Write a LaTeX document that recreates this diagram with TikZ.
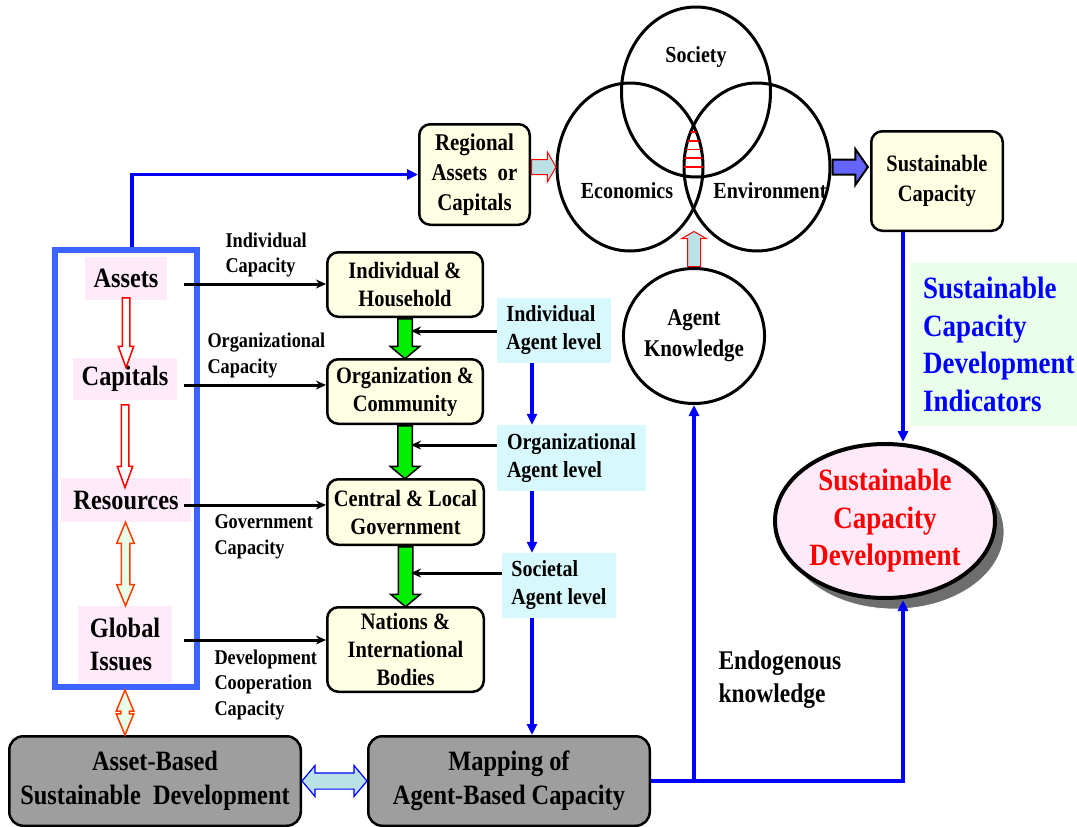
\documentclass[tikz,border=0pt]{standalone}
\usepackage{fontspec}
\setmainfont[FakeStretch=0.87]{Liberation Serif}
\usetikzlibrary{arrows.meta,calc,shapes.geometric,shapes.arrows,shadows}

\definecolor{frameblue}{RGB}{60,100,255}
\definecolor{boxyellow}{RGB}{255,255,228}
\definecolor{assetpink}{RGB}{255,234,250}
\definecolor{agentcyan}{RGB}{215,248,252}
\definecolor{indgreen}{RGB}{234,255,234}
\definecolor{boxgrey}{RGB}{158,158,158}
\definecolor{shadowgrey}{RGB}{110,110,110}
\definecolor{arrowteal}{RGB}{185,225,230}
\definecolor{arrowgreen}{RGB}{0,240,0}
\definecolor{arrowviolet}{RGB}{100,100,255}
\definecolor{redorange}{RGB}{255,60,0}
\definecolor{palegreen}{RGB}{232,255,232}

\newcommand{\sz}[2]{\fontsize{#1}{#2}\selectfont\bfseries}
% block arrow from #3 to #4, turned by #2
\newcommand{\blockarrow}[4]{%
  \path let \p1=#3, \p2=#4, \n1={veclen(\x2-\x1,\y2-\y1)} in
    node[#1, rotate=#2, anchor=tail, minimum height=\n1] at (\p1) {};}
\newcommand{\dblarrow}[4]{%
  \path let \p1=#3, \p2=#4, \n1={veclen(\x2-\x1,\y2-\y1)} in
    node[#1, rotate=#2, minimum height=\n1] at ($(\p1)!.5!(\p2)$) {};}

\begin{document}
\begin{tikzpicture}[x=1pt,y=-1pt]
  \tikzset{
    assetframe/.style={draw=frameblue, line width=6pt, minimum width=142pt, minimum height=437pt},
    asset/.style={fill=assetpink, inner sep=0pt, font={\sz{28}{33}}},
    box/.style={draw, line width=2.5pt, rounded corners=11pt, fill=boxyellow, inner sep=0pt, align=center, font={\sz{23.5}{28}}},
    greybox/.style={box, fill=boxgrey, rounded corners=14pt, font={\sz{28}{34}}},
    agent/.style={fill=agentcyan, inner sep=0pt, align=left, font={\sz{23}{28}}},
    caplabel/.style={anchor=west, align=left, font={\sz{21}{25.5}}},
    venn/.style={draw, line width=3pt, ellipse, inner sep=0pt, minimum width=146pt, minimum height=168pt},
    vennlabel/.style={font={\sz{23}{28}}},
    capline/.style={line width=3pt, -{Stealth[length=10pt,width=9pt]}},
    blueline/.style={blue, line width=3.5pt},
    bluearrow/.style={blueline, -{Triangle[length=11pt,width=10pt]}},
    fat/.style={single arrow, inner xsep=0pt, inner ysep=#1},
    redarrow/.style={fat=3pt, draw=red, line width=1.5pt, fill=white, single arrow head extend=4pt, single arrow tip angle=40},
    orangearrow/.style={double arrow, inner xsep=0pt, inner ysep=3.5pt, draw=redorange, line width=1.5pt, fill=palegreen, double arrow head extend=4.5pt, double arrow tip angle=45},
    greenarrow/.style={fat=6.5pt, draw, line width=1.5pt, fill=arrowgreen, single arrow head extend=7.5pt, single arrow tip angle=100},
    violetarrow/.style={fat=6.5pt, draw, line width=2pt, fill=arrowviolet, single arrow head extend=10.5pt, single arrow tip angle=110},
    tealarrow/.style={fat=7pt, draw=red, line width=1pt, fill=arrowteal, single arrow head extend=7.5pt, single arrow tip angle=120},
    bluedbl/.style={double arrow, inner xsep=0pt, inner ysep=7.5pt, draw=blue, line width=1.2pt, fill=arrowteal, double arrow head extend=7.5pt, double arrow tip angle=100}
  }
  \useasboundingbox (0,0) rectangle (1077,827);

%% Assets column
  \node[assetframe] (frame) at (126,468.5) {};
  \node[asset, minimum width=82pt, minimum height=43pt] (assets) at (126,278.5) {Assets};
  \node[asset, minimum width=104pt, minimum height=42pt] (capitals) at (125,379) {Capitals};
  \node[asset, minimum width=130pt, minimum height=44pt] (resources) at (126,500) {Resources};
  \node[asset, align=left, minimum width=94pt, minimum height=77pt] (global) at (125,644.5) {Global\\Issues};

%% Capacity boxes
  \node[box, minimum width=155.5pt, minimum height=64.5pt] (hh) at (405,284.5) {Individual \&\\Household};
  \node[box, minimum width=155.5pt, minimum height=64.5pt] (oc) at (405,391.5) {Organization \&\\Community};
  \node[box, minimum width=156.5pt, minimum height=65.5pt] (cg) at (405.5,512) {Central \& Local\\Government};
  \node[box, minimum width=156.5pt, minimum height=84.5pt] (nib) at (405.5,649.5) {Nations \&\\International\\Bodies};

%% Agent levels
  \node[agent, minimum width=114pt, minimum height=65pt] (indag) at (554,330.5) {Individual\\Agent level};
  \node[agent, minimum width=149pt, minimum height=66pt] (orgag) at (571.5,458) {Organizational\\Agent level};
  \node[agent, minimum width=114pt, minimum height=65pt] (socag) at (559,585.5) {Societal\\Agent level};

%% Bottom boxes
  \node[greybox, minimum width=291.5pt, minimum height=89.5pt] (asset) at (155,781) {Asset-Based\\Sustainable~~Development};
  \node[greybox, minimum width=281.5pt, minimum height=89.5pt] (mapping) at (509,781) {Mapping of\\Agent-Based Capacity};

%% Venn
  \node[venn, minimum width=149pt, minimum height=170pt] (soc) at (696,92) {};
  \node[venn] (econ) at (630,167) {};
  \node[venn] (env) at (757,167) {};
  \begin{scope}
    \clip (630,167) ellipse [x radius=73, y radius=84];
    \clip (757,167) ellipse [x radius=73, y radius=84];
    \clip (696,92) ellipse [x radius=74.5, y radius=85];
    \foreach \hy in {132,140.75,...,167}
      \draw[red, line width=1.8pt] (660,\hy) -- (730,\hy);
  \end{scope}
  \node[vennlabel] (soclab) at (696,57) {Society};
  \node[vennlabel] (econlab) at (627,191) {Economics};
  \node[vennlabel] (envlab) at (770,191) {Environment};

%% Right side
  \node[box, minimum width=110.5pt, minimum height=100.5pt, font={\sz{24}{30}}] (regional) at (474.5,174.5) {Regional\\Assets~~or\\Capitals};
  \node[box, minimum width=131.5pt, minimum height=99.5pt, font={\sz{23.5}{30}}] (sc) at (937,181) {Sustainable\\Capacity};
  \node[ellipse, draw, line width=3pt, fill=white, inner sep=0pt, minimum width=119pt, minimum height=135pt, align=center, font={\sz{24}{31}}] (ak) at (694,336) {Agent\\Knowledge};
  \node[anchor=west, fill=indgreen, inner xsep=12pt, inner ysep=0pt, minimum height=163pt, align=left, text=blue, font={\sz{31}{37.7}}] (indic) at (911,344.5) {Sustainable\\Capacity\\Development\\Indicators};
  \node[ellipse, draw, line width=4pt, fill=assetpink, inner sep=0pt, minimum width=220pt, minimum height=154pt, align=center, text=red, font={\sz{31}{37.5}},
        drop shadow={shadow xshift=9pt, shadow yshift=-11pt, fill=shadowgrey, draw=white, line width=0.8pt, opacity=1}] (sce) at (885,521) {Sustainable\\Capacity\\Development};
  \node[anchor=west, align=left, font={\sz{27}{33}}] (endo) at (715,680) {Endogenous\\knowledge};

%% Capacity labels
  \node[caplabel] (indcap) at (222,255) {Individual\\Capacity};
  \node[caplabel] (orgcap) at (204,355.5) {Organizational\\Capacity};
  \node[caplabel] (govcap) at (211,537) {Government\\Capacity};
  \node[caplabel] (devcap) at (211,684.5) {Development\\Cooperation\\Capacity};

%Block arrows
  \blockarrow{redarrow}{-90}{([yshift=3pt]assets.south)}{([yshift=-9pt]capitals.north)}
  \blockarrow{redarrow}{-90}{([yshift=-4pt]capitals.south)}{([yshift=-9pt]resources.north)}
  \dblarrow{orangearrow}{90}{(resources.south)}{(global.north)}
  \dblarrow{orangearrow}{90}{(frame.south -| global.south)}{(asset.north -| global.south)}
  \blockarrow{greenarrow}{-90}{(hh.south)}{(oc.north)}
  \blockarrow{greenarrow}{-90}{(oc.south)}{(cg.north)}
  \blockarrow{greenarrow}{-90}{(cg.south)}{(nib.north)}
  \coordinate (venntip) at (693,232);
  \blockarrow{tealarrow}{0}{(regional.east |- econ.west)}{(econ.west)}
  \blockarrow{tealarrow, fat=6pt, single arrow head extend=6pt}{90}{(ak.north)}{(venntip)}
  \blockarrow{violetarrow}{0}{(env.east)}{([xshift=-6pt]sc.west)}
  \dblarrow{bluedbl}{0}{(asset.east)}{(mapping.west)}

%Capacity arrows
  \coordinate (a1) at (184,284);
  \coordinate (a2) at (184,385);
  \coordinate (a3) at (184,505);
  \coordinate (a4) at (184,640);
  \draw[capline] (a1) -- (a1 -| hh.west);
  \draw[capline] (a2) -- (a2 -| oc.west);
  \draw[capline] (a3) -- (a3 -| cg.west);
  \draw[capline] (a4) -- (a4 -| nib.west);
  \coordinate (g1) at (411,331);
  \coordinate (g2) at (411,445);
  \coordinate (g3) at (411,573);
  \draw[capline] (indag.west |- g1) -- (g1);
  \draw[capline] (orgag.west |- g2) -- (g2);
  \draw[capline] (socag.west |- g3) -- (g3);

%Blue arrows
  \coordinate (agx) at (532,0);
  \coordinate (cx) at (903,0);
  \draw[bluearrow] (indag.south -| agx) -- (orgag.north -| agx);
  \draw[bluearrow] (orgag.south -| agx) -- (socag.north -| agx);
  \draw[bluearrow] (socag.south -| agx) -- (mapping.north -| agx);
  \draw[bluearrow] ([xshift=6pt]frame.north) |- (regional.west);
  \draw[bluearrow] (sc.south -| cx) -- (sce.north -| cx);
  \draw[bluearrow] (mapping.east) -| (sce.south -| cx);
  \draw[bluearrow] (mapping.east -| ak.south) -- (ak.south);
\end{tikzpicture}
\end{document}
